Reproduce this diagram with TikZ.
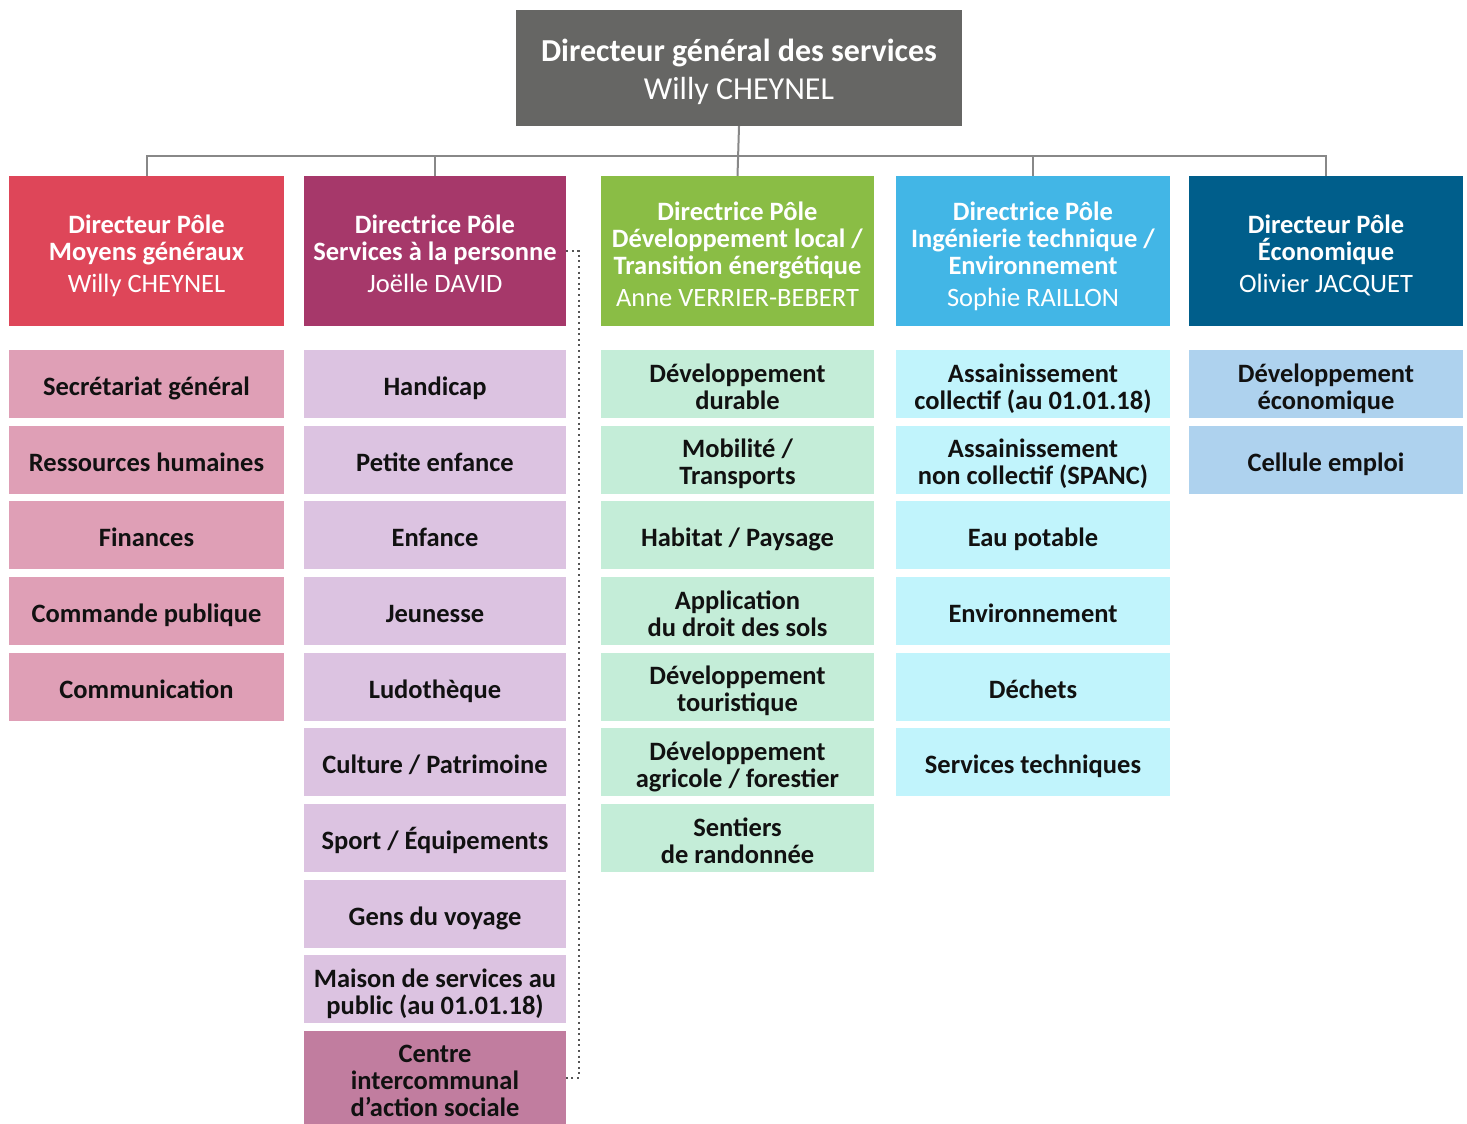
\documentclass[tikz,border=0pt]{standalone}
\usepackage{fontspec}
\setmainfont{Carlito}
\definecolor{topgray}{HTML}{666664}
\definecolor{cred}{HTML}{DE4659}
\definecolor{cpur}{HTML}{A6386A}
\definecolor{cgrn}{HTML}{8ABD45}
\definecolor{clbl}{HTML}{42B6E6}
\definecolor{cdbl}{HTML}{005E8B}
\definecolor{ired}{HTML}{DF9FB6}
\definecolor{ipur}{HTML}{DCC3E1}
\definecolor{ipurd}{HTML}{C17D9F}
\definecolor{igrn}{HTML}{C4EDD8}
\definecolor{ilbl}{HTML}{C1F4FC}
\definecolor{idbl}{HTML}{AED2EE}
\definecolor{linegray}{HTML}{888888}
\definecolor{dotgray}{HTML}{555555}
\definecolor{txt}{HTML}{111111}
\begin{document}
\begin{tikzpicture}[x=1pt,y=-1pt,
  box/.style={rectangle, inner sep=0pt, align=flush center, minimum height=68pt},
  struts/.style n args={2}{execute at begin node={\rule{0pt}{#1}},
    execute at end node={\rule[-#2]{0pt}{#2}}},
  hdr/.style={box, minimum height=150pt, text=white, font=\fontsize{26.5}{27}\selectfont,
    struts={32pt}{8pt}},
  itm/.style={box, text=txt, font=\bfseries\fontsize{26.5}{27}\selectfont,
    struts={31pt}{8pt}},
  w1/.style={minimum width=275pt, text width=272pt},
  w2/.style={minimum width=262pt, text width=260pt},
  w3/.style={minimum width=273pt, text width=270pt},
  w4/.style={minimum width=274pt, text width=272pt},
  w5/.style={minimum width=274pt, text width=272pt},
  conn/.style={draw=linegray, line width=2pt},
  dotline/.style={draw=dotgray, line width=2pt, dash pattern=on 2pt off 3.6pt}
]
\useasboundingbox (0,0) rectangle (1467,1124);

% top
\node[box, fill=topgray, minimum width=446pt, text width=440pt, minimum height=116pt, text=white,
  font=\fontsize{32}{38}\selectfont, struts={34pt}{9pt}] (top) at (739,68)
  {\textbf{Directeur général des services}\\Willy CHEYNEL};

% headers
\node[hdr, w1, fill=cred] (p1) at (146.5,251) {\textbf{Directeur Pôle}\\\textbf{Moyens généraux}\\[5pt]Willy CHEYNEL};
\node[hdr, w2, fill=cpur] (p2) at (435,251) {\textbf{Directrice Pôle}\\\textbf{Services à la personne}\\[5pt]Joëlle DAVID};
\node[hdr, w3, fill=cgrn] (p3) at (737.5,251) {\textbf{Directrice Pôle}\\\textbf{Développement local /}\\\textbf{Transition énergétique}\\[5pt]Anne VERRIER-BEBERT};
\node[hdr, w4, fill=clbl] (p4) at (1033,251) {\textbf{Directrice Pôle}\\\textbf{Ingénierie technique /}\\\textbf{Environnement}\\[5pt]Sophie RAILLON};
\node[hdr, w5, fill=cdbl] (p5) at (1326,251) {\textbf{Directeur Pôle}\\\textbf{Économique}\\[5pt]Olivier JACQUET};

% connectors
\draw[conn] (top.south) -- (p3.north);
\draw[conn] (p1.north) -- ++(0,-20) -| (p5.north);
\draw[conn] (p2.north) -- ++(0,-20);
\draw[conn] (p4.north) -- ++(0,-20);

% column 1
\node[itm, w1, fill=ired] (a1) at (146.5,384) {Secrétariat général};
\node[itm, w1, fill=ired] (a2) at (146.5,459.6) {Ressources humaines};
\node[itm, w1, fill=ired] (a3) at (146.5,535.3) {Finances};
\node[itm, w1, fill=ired] (a4) at (146.5,611) {Commande publique};
\node[itm, w1, fill=ired] (a5) at (146.5,686.6) {Communication};

% column 2
\node[itm, w2, fill=ipur] (b1) at (435,384) {Handicap};
\node[itm, w2, fill=ipur] (b2) at (435,459.6) {Petite enfance};
\node[itm, w2, fill=ipur] (b3) at (435,535.3) {Enfance};
\node[itm, w2, fill=ipur] (b4) at (435,611) {Jeunesse};
\node[itm, w2, fill=ipur] (b5) at (435,686.6) {Ludothèque};
\node[itm, w2, fill=ipur] (b6) at (435,762.3) {Culture / Patrimoine};
\node[itm, w2, fill=ipur] (b7) at (435,838) {Sport / Équipements};
\node[itm, w2, fill=ipur] (b8) at (435,913.6) {Gens du voyage};
\node[itm, w2, fill=ipur] (b9) at (435,989.3) {Maison de services au\\public (au 01.01.18)};
\node[itm, w2, fill=ipurd, minimum height=93pt] (b10) at (435,1077.5) {Centre\\intercommunal\\d’action sociale};

% column 3
\node[itm, w3, fill=igrn] (c1) at (737.5,384) {Développement\\durable};
\node[itm, w3, fill=igrn] (c2) at (737.5,459.6) {Mobilité /\\Transports};
\node[itm, w3, fill=igrn] (c3) at (737.5,535.3) {Habitat / Paysage};
\node[itm, w3, fill=igrn] (c4) at (737.5,611) {Application\\du droit des sols};
\node[itm, w3, fill=igrn] (c5) at (737.5,686.6) {Développement\\touristique};
\node[itm, w3, fill=igrn] (c6) at (737.5,762.3) {Développement\\agricole / forestier};
\node[itm, w3, fill=igrn] (c7) at (737.5,838) {Sentiers\\de randonnée};

% column 4
\node[itm, w4, fill=ilbl] (d1) at (1033,384) {Assainissement\\collectif (au 01.01.18)};
\node[itm, w4, fill=ilbl] (d2) at (1033,459.6) {Assainissement\\non collectif (SPANC)};
\node[itm, w4, fill=ilbl] (d3) at (1033,535.3) {Eau potable};
\node[itm, w4, fill=ilbl] (d4) at (1033,611) {Environnement};
\node[itm, w4, fill=ilbl] (d5) at (1033,686.6) {Déchets};
\node[itm, w4, fill=ilbl] (d6) at (1033,762.3) {Services techniques};

% column 5
\node[itm, w5, fill=idbl] (e1) at (1326,384) {Développement\\économique};
\node[itm, w5, fill=idbl] (e2) at (1326,459.6) {Cellule emploi};

% dotted link
\draw[dotline] (p2.east) -- ++(13,0) |- (b10.east);
\end{tikzpicture}
\end{document}
